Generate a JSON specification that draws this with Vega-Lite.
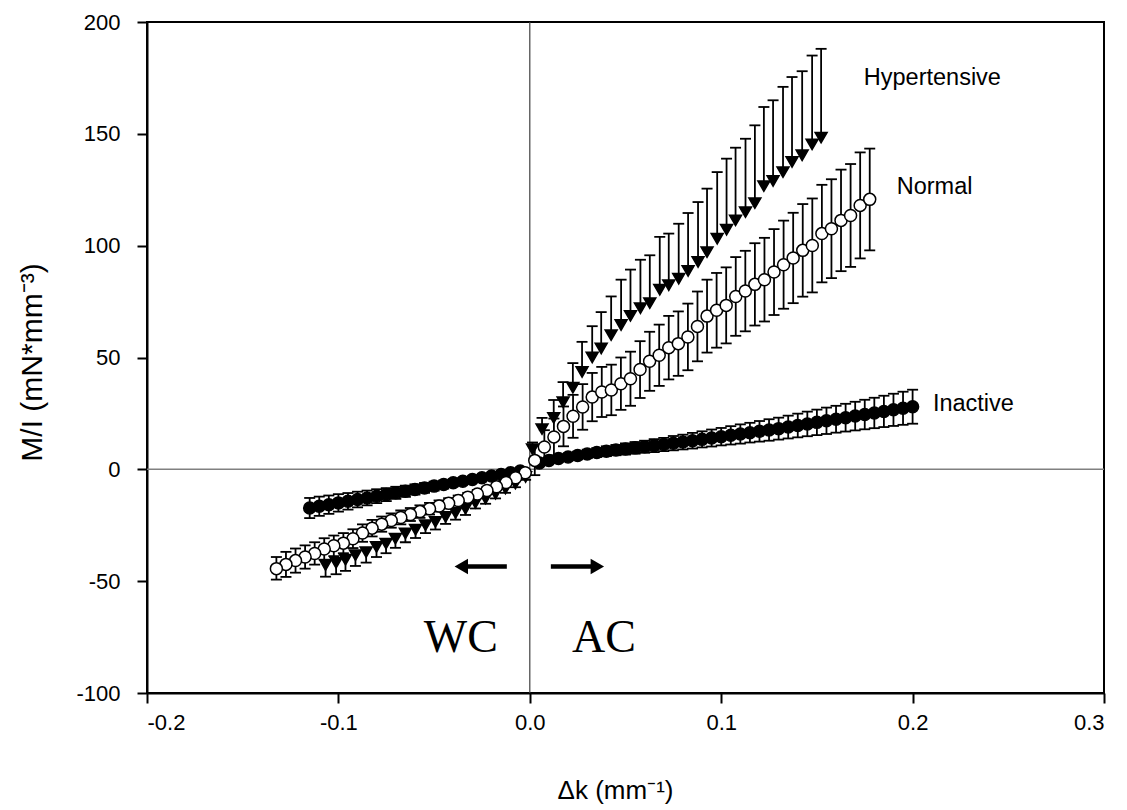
{
  "$schema": "https://vega.github.io/schema/vega-lite/v6.json",
  "width": 957,
  "height": 671,
  "autosize": {"type": "none"},
  "padding": {"left": 147, "top": 22, "right": 23, "bottom": 117},
  "background": "white",
  "config": {
    "view": {"stroke": "black", "strokeWidth": 2},
    "axis": {
      "grid": false,
      "domainColor": "black",
      "domainWidth": 2,
      "tickColor": "black",
      "tickWidth": 2,
      "tickSize": 10,
      "labelFont": "Liberation Sans",
      "labelFontSize": 22,
      "labelColor": "black",
      "titleFont": "Liberation Sans",
      "titleFontSize": 26,
      "titleFontWeight": "normal",
      "titleColor": "black"
    },
    "axisX": {"labelPadding": 9, "titleX": 468, "titleY": 97, "titleAlign": "center", "titleBaseline": "middle"},
    "axisY": {"labelPadding": 17, "titleX": -115, "titleY": 340, "titleAngle": -90, "titleAlign": "center", "titleBaseline": "middle", "titleFontSize": 30}
  },
  "datasets": {
    "pts": [
      {"s":"Inactive","x":0.005,"y":2.8,"lo":2.0,"hi":3.6},
      {"s":"Inactive","x":0.01,"y":4.0,"lo":2.9,"hi":5.1},
      {"s":"Inactive","x":0.015,"y":4.8,"lo":3.5,"hi":6.1},
      {"s":"Inactive","x":0.02,"y":5.5,"lo":4.0,"hi":7.0},
      {"s":"Inactive","x":0.025,"y":6.2,"lo":4.5,"hi":7.9},
      {"s":"Inactive","x":0.03,"y":6.9,"lo":5.0,"hi":8.8},
      {"s":"Inactive","x":0.035,"y":7.5,"lo":5.5,"hi":9.5},
      {"s":"Inactive","x":0.04,"y":8.1,"lo":5.9,"hi":10.3},
      {"s":"Inactive","x":0.045,"y":8.6,"lo":6.3,"hi":10.9},
      {"s":"Inactive","x":0.05,"y":9.1,"lo":6.6,"hi":11.6},
      {"s":"Inactive","x":0.055,"y":9.6,"lo":7.0,"hi":12.2},
      {"s":"Inactive","x":0.06,"y":10.1,"lo":7.4,"hi":12.8},
      {"s":"Inactive","x":0.065,"y":10.6,"lo":7.7,"hi":13.5},
      {"s":"Inactive","x":0.07,"y":11.1,"lo":8.1,"hi":14.1},
      {"s":"Inactive","x":0.075,"y":11.7,"lo":8.5,"hi":14.9},
      {"s":"Inactive","x":0.08,"y":12.2,"lo":8.9,"hi":15.5},
      {"s":"Inactive","x":0.085,"y":12.8,"lo":9.3,"hi":16.3},
      {"s":"Inactive","x":0.09,"y":13.4,"lo":9.8,"hi":17.0},
      {"s":"Inactive","x":0.095,"y":14.0,"lo":10.2,"hi":17.8},
      {"s":"Inactive","x":0.1,"y":14.6,"lo":10.7,"hi":18.5},
      {"s":"Inactive","x":0.105,"y":15.2,"lo":11.1,"hi":19.3},
      {"s":"Inactive","x":0.11,"y":15.8,"lo":11.5,"hi":20.1},
      {"s":"Inactive","x":0.115,"y":16.4,"lo":12.0,"hi":20.8},
      {"s":"Inactive","x":0.12,"y":17.0,"lo":12.4,"hi":21.6},
      {"s":"Inactive","x":0.125,"y":17.6,"lo":12.8,"hi":22.4},
      {"s":"Inactive","x":0.13,"y":18.2,"lo":13.3,"hi":23.1},
      {"s":"Inactive","x":0.135,"y":18.9,"lo":13.8,"hi":24.0},
      {"s":"Inactive","x":0.14,"y":19.6,"lo":14.3,"hi":24.9},
      {"s":"Inactive","x":0.145,"y":20.3,"lo":14.8,"hi":25.8},
      {"s":"Inactive","x":0.15,"y":21.0,"lo":15.3,"hi":26.7},
      {"s":"Inactive","x":0.155,"y":21.7,"lo":15.8,"hi":27.6},
      {"s":"Inactive","x":0.16,"y":22.4,"lo":16.4,"hi":28.4},
      {"s":"Inactive","x":0.165,"y":23.1,"lo":16.9,"hi":29.3},
      {"s":"Inactive","x":0.17,"y":23.8,"lo":17.4,"hi":30.2},
      {"s":"Inactive","x":0.175,"y":24.5,"lo":17.9,"hi":31.1},
      {"s":"Inactive","x":0.18,"y":25.2,"lo":18.4,"hi":32.0},
      {"s":"Inactive","x":0.185,"y":25.9,"lo":18.9,"hi":32.9},
      {"s":"Inactive","x":0.19,"y":26.6,"lo":19.4,"hi":33.8},
      {"s":"Inactive","x":0.195,"y":27.3,"lo":19.9,"hi":34.7},
      {"s":"Inactive","x":0.2,"y":28.0,"lo":20.4,"hi":35.6},
      {"s":"Inactive","x":-0.005,"y":-0.8,"lo":-1.0,"hi":-0.6},
      {"s":"Inactive","x":-0.01,"y":-1.5,"lo":-1.9,"hi":-1.1},
      {"s":"Inactive","x":-0.015,"y":-2.3,"lo":-2.9,"hi":-1.7},
      {"s":"Inactive","x":-0.02,"y":-3.0,"lo":-3.8,"hi":-2.2},
      {"s":"Inactive","x":-0.025,"y":-3.8,"lo":-4.8,"hi":-2.8},
      {"s":"Inactive","x":-0.03,"y":-4.5,"lo":-5.7,"hi":-3.3},
      {"s":"Inactive","x":-0.035,"y":-5.3,"lo":-6.7,"hi":-3.9},
      {"s":"Inactive","x":-0.04,"y":-6.0,"lo":-7.6,"hi":-4.4},
      {"s":"Inactive","x":-0.045,"y":-6.8,"lo":-8.6,"hi":-5.0},
      {"s":"Inactive","x":-0.05,"y":-7.5,"lo":-9.5,"hi":-5.5},
      {"s":"Inactive","x":-0.055,"y":-8.3,"lo":-10.5,"hi":-6.1},
      {"s":"Inactive","x":-0.06,"y":-9.0,"lo":-11.3,"hi":-6.7},
      {"s":"Inactive","x":-0.065,"y":-9.8,"lo":-12.3,"hi":-7.3},
      {"s":"Inactive","x":-0.07,"y":-10.5,"lo":-13.2,"hi":-7.8},
      {"s":"Inactive","x":-0.075,"y":-11.3,"lo":-14.2,"hi":-8.4},
      {"s":"Inactive","x":-0.08,"y":-12.0,"lo":-15.1,"hi":-8.9},
      {"s":"Inactive","x":-0.085,"y":-12.8,"lo":-16.1,"hi":-9.5},
      {"s":"Inactive","x":-0.09,"y":-13.5,"lo":-17.0,"hi":-10.0},
      {"s":"Inactive","x":-0.095,"y":-14.3,"lo":-18.0,"hi":-10.6},
      {"s":"Inactive","x":-0.1,"y":-15.0,"lo":-18.9,"hi":-11.1},
      {"s":"Inactive","x":-0.105,"y":-15.8,"lo":-19.9,"hi":-11.7},
      {"s":"Inactive","x":-0.11,"y":-16.5,"lo":-20.8,"hi":-12.2},
      {"s":"Inactive","x":-0.115,"y":-17.3,"lo":-21.8,"hi":-12.8},
      {"s":"Hypertensive","x":0.0014,"y":9,"lo":9,"hi":12},
      {"s":"Hypertensive","x":0.0064,"y":18,"lo":18,"hi":23},
      {"s":"Hypertensive","x":0.0125,"y":23,"lo":23,"hi":31},
      {"s":"Hypertensive","x":0.0174,"y":30,"lo":30,"hi":39},
      {"s":"Hypertensive","x":0.0225,"y":36.5,"lo":36.5,"hi":47.5},
      {"s":"Hypertensive","x":0.0273,"y":43.5,"lo":43.5,"hi":57},
      {"s":"Hypertensive","x":0.0326,"y":50,"lo":50,"hi":64},
      {"s":"Hypertensive","x":0.0373,"y":54,"lo":54,"hi":70.3},
      {"s":"Hypertensive","x":0.0425,"y":60,"lo":60,"hi":77.3},
      {"s":"Hypertensive","x":0.0477,"y":64.5,"lo":64.5,"hi":84.8},
      {"s":"Hypertensive","x":0.0526,"y":68.6,"lo":68.6,"hi":89.3},
      {"s":"Hypertensive","x":0.0578,"y":72,"lo":72,"hi":93.7},
      {"s":"Hypertensive","x":0.0627,"y":74.3,"lo":74.3,"hi":95.7},
      {"s":"Hypertensive","x":0.0679,"y":80.3,"lo":80.3,"hi":103.9},
      {"s":"Hypertensive","x":0.0726,"y":82.3,"lo":82.3,"hi":105.4},
      {"s":"Hypertensive","x":0.0778,"y":85.2,"lo":85.2,"hi":109.8},
      {"s":"Hypertensive","x":0.0827,"y":88.7,"lo":88.7,"hi":114.6},
      {"s":"Hypertensive","x":0.0879,"y":92.7,"lo":92.7,"hi":119.5},
      {"s":"Hypertensive","x":0.0926,"y":97.1,"lo":97.1,"hi":125.5},
      {"s":"Hypertensive","x":0.0979,"y":103.1,"lo":103.1,"hi":132.9},
      {"s":"Hypertensive","x":0.1028,"y":107.1,"lo":107.1,"hi":138.9},
      {"s":"Hypertensive","x":0.1075,"y":111.3,"lo":111.3,"hi":143.8},
      {"s":"Hypertensive","x":0.1127,"y":115,"lo":115,"hi":147.8},
      {"s":"Hypertensive","x":0.1176,"y":119,"lo":119,"hi":153.8},
      {"s":"Hypertensive","x":0.1223,"y":126.6,"lo":126.6,"hi":162},
      {"s":"Hypertensive","x":0.1271,"y":128.9,"lo":128.9,"hi":165},
      {"s":"Hypertensive","x":0.1323,"y":132.9,"lo":132.9,"hi":171},
      {"s":"Hypertensive","x":0.137,"y":137.4,"lo":137.4,"hi":175.4},
      {"s":"Hypertensive","x":0.1423,"y":140.4,"lo":140.4,"hi":178},
      {"s":"Hypertensive","x":0.1475,"y":145.3,"lo":145.3,"hi":185},
      {"s":"Hypertensive","x":0.1522,"y":148.3,"lo":148.3,"hi":188},
      {"s":"Hypertensive","x":-0.0022,"y":-3.4,"lo":-4.7,"hi":-3.4},
      {"s":"Hypertensive","x":-0.0075,"y":-6.4,"lo":-8.0,"hi":-6.4},
      {"s":"Hypertensive","x":-0.0127,"y":-8.6,"lo":-10.5,"hi":-8.6},
      {"s":"Hypertensive","x":-0.0179,"y":-10.9,"lo":-13.0,"hi":-10.9},
      {"s":"Hypertensive","x":-0.0231,"y":-13.1,"lo":-15.4,"hi":-13.1},
      {"s":"Hypertensive","x":-0.0284,"y":-15,"lo":-17.5,"hi":-15},
      {"s":"Hypertensive","x":-0.0336,"y":-17.6,"lo":-20.4,"hi":-17.6},
      {"s":"Hypertensive","x":-0.0388,"y":-19.5,"lo":-22.5,"hi":-19.5},
      {"s":"Hypertensive","x":-0.044,"y":-21.3,"lo":-24.4,"hi":-21.3},
      {"s":"Hypertensive","x":-0.0493,"y":-23.5,"lo":-26.9,"hi":-23.5},
      {"s":"Hypertensive","x":-0.0545,"y":-25,"lo":-28.5,"hi":-25},
      {"s":"Hypertensive","x":-0.0597,"y":-27,"lo":-30.7,"hi":-27},
      {"s":"Hypertensive","x":-0.065,"y":-28.7,"lo":-32.6,"hi":-28.7},
      {"s":"Hypertensive","x":-0.0702,"y":-31,"lo":-35.1,"hi":-31},
      {"s":"Hypertensive","x":-0.0751,"y":-33.2,"lo":-37.5,"hi":-33.2},
      {"s":"Hypertensive","x":-0.0801,"y":-34.7,"lo":-39.2,"hi":-34.7},
      {"s":"Hypertensive","x":-0.0855,"y":-37,"lo":-41.7,"hi":-37},
      {"s":"Hypertensive","x":-0.0911,"y":-38.4,"lo":-43.2,"hi":-38.4},
      {"s":"Hypertensive","x":-0.0963,"y":-40.4,"lo":-45.4,"hi":-40.4},
      {"s":"Hypertensive","x":-0.1012,"y":-41.8,"lo":-46.9,"hi":-41.8},
      {"s":"Hypertensive","x":-0.1067,"y":-42.8,"lo":-48.0,"hi":-42.8},
      {"s":"Normal","x":0.0026,"y":4.0,"lo":-2.6,"hi":10.6},
      {"s":"Normal","x":0.0076,"y":10,"lo":2.5,"hi":17.5},
      {"s":"Normal","x":0.0126,"y":14.5,"lo":6.3,"hi":22.7},
      {"s":"Normal","x":0.0176,"y":19.2,"lo":10.3,"hi":28.1},
      {"s":"Normal","x":0.0226,"y":23.7,"lo":14.1,"hi":33.3},
      {"s":"Normal","x":0.0276,"y":27.9,"lo":17.7,"hi":38.1},
      {"s":"Normal","x":0.0326,"y":32.3,"lo":21.5,"hi":43.1},
      {"s":"Normal","x":0.0376,"y":34.6,"lo":23.4,"hi":45.8},
      {"s":"Normal","x":0.0426,"y":35.5,"lo":24.2,"hi":46.8},
      {"s":"Normal","x":0.0476,"y":38.3,"lo":26.6,"hi":50},
      {"s":"Normal","x":0.0526,"y":40.5,"lo":28.4,"hi":52.6},
      {"s":"Normal","x":0.0576,"y":44.6,"lo":31.9,"hi":57.3},
      {"s":"Normal","x":0.0626,"y":48.3,"lo":35.1,"hi":61.5},
      {"s":"Normal","x":0.0676,"y":51,"lo":37.3,"hi":64.7},
      {"s":"Normal","x":0.0726,"y":54.4,"lo":40.2,"hi":68.6},
      {"s":"Normal","x":0.0776,"y":56.2,"lo":41.8,"hi":70.6},
      {"s":"Normal","x":0.0826,"y":59.2,"lo":44.3,"hi":74.1},
      {"s":"Normal","x":0.0876,"y":63.9,"lo":48.3,"hi":79.5},
      {"s":"Normal","x":0.0926,"y":68.5,"lo":52.2,"hi":84.8},
      {"s":"Normal","x":0.0976,"y":71.1,"lo":54.4,"hi":87.8},
      {"s":"Normal","x":0.1026,"y":73.3,"lo":56.3,"hi":90.3},
      {"s":"Normal","x":0.1076,"y":77.3,"lo":59.7,"hi":94.9},
      {"s":"Normal","x":0.1126,"y":79.7,"lo":61.7,"hi":97.7},
      {"s":"Normal","x":0.1176,"y":82.7,"lo":64.3,"hi":101.1},
      {"s":"Normal","x":0.1226,"y":84.8,"lo":66.1,"hi":103.5},
      {"s":"Normal","x":0.1276,"y":88.2,"lo":69,"hi":107.4},
      {"s":"Normal","x":0.1326,"y":91.5,"lo":71.8,"hi":111.2},
      {"s":"Normal","x":0.1376,"y":94.5,"lo":74.3,"hi":114.7},
      {"s":"Normal","x":0.1426,"y":97.9,"lo":77.2,"hi":118.6},
      {"s":"Normal","x":0.1476,"y":100.1,"lo":79.1,"hi":121.1},
      {"s":"Normal","x":0.1526,"y":105.4,"lo":83.6,"hi":127.2},
      {"s":"Normal","x":0.1576,"y":107.6,"lo":85.5,"hi":129.7},
      {"s":"Normal","x":0.1626,"y":111.3,"lo":88.6,"hi":134},
      {"s":"Normal","x":0.1676,"y":113.5,"lo":90.5,"hi":136.5},
      {"s":"Normal","x":0.1726,"y":118,"lo":94.3,"hi":141.7},
      {"s":"Normal","x":0.1776,"y":120.7,"lo":97.9,"hi":143.4},
      {"s":"Normal","x":-0.0024,"y":-1.5,"lo":-2.2,"hi":-0.8},
      {"s":"Normal","x":-0.0074,"y":-3.8,"lo":-4.8,"hi":-2.8},
      {"s":"Normal","x":-0.0124,"y":-5.9,"lo":-7.1,"hi":-4.7},
      {"s":"Normal","x":-0.0174,"y":-7.8,"lo":-9.2,"hi":-6.4},
      {"s":"Normal","x":-0.0224,"y":-9.5,"lo":-11.1,"hi":-7.9},
      {"s":"Normal","x":-0.0274,"y":-11,"lo":-12.8,"hi":-9.2},
      {"s":"Normal","x":-0.0324,"y":-12.5,"lo":-14.5,"hi":-10.5},
      {"s":"Normal","x":-0.0374,"y":-13.9,"lo":-16.1,"hi":-11.7},
      {"s":"Normal","x":-0.0424,"y":-15.2,"lo":-17.5,"hi":-12.9},
      {"s":"Normal","x":-0.0474,"y":-16.4,"lo":-18.9,"hi":-13.9},
      {"s":"Normal","x":-0.0524,"y":-17.6,"lo":-20.2,"hi":-15},
      {"s":"Normal","x":-0.0574,"y":-18.9,"lo":-21.7,"hi":-16.1},
      {"s":"Normal","x":-0.0624,"y":-20.2,"lo":-23.1,"hi":-17.3},
      {"s":"Normal","x":-0.0674,"y":-21.5,"lo":-24.6,"hi":-18.4},
      {"s":"Normal","x":-0.0724,"y":-22.9,"lo":-26.1,"hi":-19.7},
      {"s":"Normal","x":-0.0774,"y":-24.5,"lo":-27.9,"hi":-21.1},
      {"s":"Normal","x":-0.0824,"y":-26.3,"lo":-30,"hi":-22.6},
      {"s":"Normal","x":-0.0874,"y":-28.5,"lo":-32.4,"hi":-24.6},
      {"s":"Normal","x":-0.0924,"y":-31,"lo":-35.2,"hi":-26.8},
      {"s":"Normal","x":-0.0974,"y":-33,"lo":-37.5,"hi":-28.5},
      {"s":"Normal","x":-0.1024,"y":-34.2,"lo":-38.8,"hi":-29.6},
      {"s":"Normal","x":-0.1074,"y":-35.6,"lo":-40.4,"hi":-30.8},
      {"s":"Normal","x":-0.1124,"y":-37.6,"lo":-42.6,"hi":-32.6},
      {"s":"Normal","x":-0.1174,"y":-39.2,"lo":-44.4,"hi":-34},
      {"s":"Normal","x":-0.1224,"y":-40.8,"lo":-46.2,"hi":-35.4},
      {"s":"Normal","x":-0.1274,"y":-42.5,"lo":-48.1,"hi":-36.9},
      {"s":"Normal","x":-0.1324,"y":-44.4,"lo":-49.3,"hi":-39.2}
    ],
    "notes": [
      {"label":"Hypertensive","x":0.1745,"y":174.8},
      {"label":"Normal","x":0.1917,"y":126.1},
      {"label":"Inactive","x":0.2106,"y":29.1}
    ],
    "big": [
      {"label":"WC","x":-0.036,"y":-81.8},
      {"label":"AC","x":0.0387,"y":-81.8}
    ],
    "arrows": [
      {"dir":"left","x":-0.0358,"x2":-0.012,"y":-43.4},
      {"dir":"right","x":0.0353,"x2":0.011,"y":-43.4}
    ],
    "zero": [{"z":0}]
  },
  "layer": [
    {
      "data": {"name": "zero"},
      "mark": {"type": "rule", "color": "#808080", "strokeWidth": 1.5},
      "encoding": {
        "y": {"field": "z", "type": "quantitative", "scale": {"domain": [-100, 200], "nice": false, "zero": false},
              "axis": {"title": "M/I (mN*mm⁻³)", "values": [-100,-50,0,50,100,150,200], "labelExpr": "datum.value < 0 ? '-' + format(-datum.value, 'd') : format(datum.value, 'd')"}}
      }
    },
    {
      "data": {"name": "zero"},
      "mark": {"type": "rule", "color": "#404040", "strokeWidth": 1.2},
      "encoding": {
        "x": {"field": "z", "type": "quantitative", "scale": {"domain": [-0.2, 0.3], "nice": false, "zero": false},
              "axis": {"title": "Δk (mm⁻¹)", "values": [-0.2,-0.1,0,0.1,0.2,0.3], "labelExpr": "datum.value < 0 ? '-' + format(-datum.value, '.1f') : format(datum.value, '.1f')"}}
      }
    },
    {
      "data": {"name": "pts"},
      "mark": {"type": "rule", "color": "black", "strokeWidth": 1.8},
      "encoding": {
        "x": {"field": "x", "type": "quantitative", "title": "Δk (mm⁻¹)"},
        "y": {"field": "lo", "type": "quantitative", "title": "M/I (mN*mm⁻³)"},
        "y2": {"field": "hi"}
      }
    },
    {
      "data": {"name": "pts"},
      "transform": [{"filter": "datum.hi > datum.y"}],
      "mark": {"type": "tick", "orient": "horizontal", "color": "black", "size": 11, "thickness": 1.8, "opacity": 1},
      "encoding": {
        "x": {"field": "x", "type": "quantitative", "title": "Δk (mm⁻¹)"},
        "y": {"field": "hi", "type": "quantitative", "title": "M/I (mN*mm⁻³)"}
      }
    },
    {
      "data": {"name": "pts"},
      "transform": [{"filter": "datum.lo < datum.y"}],
      "mark": {"type": "tick", "orient": "horizontal", "color": "black", "size": 11, "thickness": 1.8, "opacity": 1},
      "encoding": {
        "x": {"field": "x", "type": "quantitative", "title": "Δk (mm⁻¹)"},
        "y": {"field": "lo", "type": "quantitative", "title": "M/I (mN*mm⁻³)"}
      }
    },
    {
      "data": {"name": "pts"},
      "mark": {"type": "point", "filled": true, "stroke": "black", "strokeWidth": 1.5, "size": 144, "opacity": 1},
      "encoding": {
        "x": {"field": "x", "type": "quantitative", "title": "Δk (mm⁻¹)"},
        "y": {"field": "y", "type": "quantitative", "title": "M/I (mN*mm⁻³)"},
        "shape": {"field": "s", "type": "nominal", "legend": null,
                  "scale": {"domain": ["Inactive","Hypertensive","Normal"], "range": ["circle","triangle-down","circle"]}},
        "fill": {"field": "s", "type": "nominal", "legend": null,
                 "scale": {"domain": ["Inactive","Hypertensive","Normal"], "range": ["black","black","white"]}}
      }
    },
    {
      "data": {"name": "notes"},
      "mark": {"type": "text", "align": "left", "baseline": "middle", "font": "Liberation Sans", "fontSize": 23.5, "color": "black"},
      "encoding": {
        "x": {"field": "x", "type": "quantitative", "title": "Δk (mm⁻¹)"},
        "y": {"field": "y", "type": "quantitative", "title": "M/I (mN*mm⁻³)"},
        "text": {"field": "label"}
      }
    },
    {
      "data": {"name": "big"},
      "mark": {"type": "text", "align": "center", "baseline": "alphabetic", "font": "Liberation Serif", "fontSize": 46, "color": "black"},
      "encoding": {
        "x": {"field": "x", "type": "quantitative", "title": "Δk (mm⁻¹)"},
        "y": {"field": "y", "type": "quantitative", "title": "M/I (mN*mm⁻³)"},
        "text": {"field": "label"}
      }
    },
    {
      "data": {"name": "arrows"},
      "mark": {"type": "rule", "color": "black", "strokeWidth": 4.5},
      "encoding": {
        "x": {"field": "x", "type": "quantitative", "title": "Δk (mm⁻¹)"},
        "x2": {"field": "x2"},
        "y": {"field": "y", "type": "quantitative", "title": "M/I (mN*mm⁻³)"}
      }
    },
    {
      "data": {"name": "arrows"},
      "transform": [{"filter": "datum.dir == 'left'"}],
      "mark": {"type": "point", "shape": "triangle-left", "filled": true, "color": "black", "size": 240, "opacity": 1},
      "encoding": {
        "x": {"field": "x", "type": "quantitative", "title": "Δk (mm⁻¹)"},
        "y": {"field": "y", "type": "quantitative", "title": "M/I (mN*mm⁻³)"}
      }
    },
    {
      "data": {"name": "arrows"},
      "transform": [{"filter": "datum.dir == 'right'"}],
      "mark": {"type": "point", "shape": "triangle-right", "filled": true, "color": "black", "size": 240, "opacity": 1},
      "encoding": {
        "x": {"field": "x", "type": "quantitative", "title": "Δk (mm⁻¹)"},
        "y": {"field": "y", "type": "quantitative", "title": "M/I (mN*mm⁻³)"}
      }
    }
  ]
}
